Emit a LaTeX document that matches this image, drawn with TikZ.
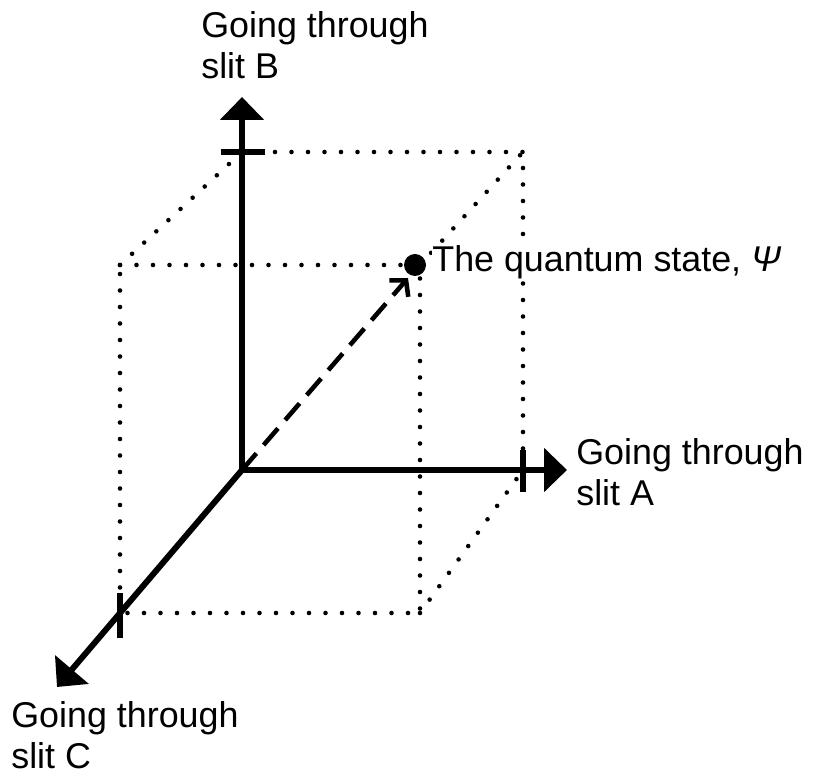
\documentclass[tikz,border=0pt]{standalone}
\usepackage{fontspec}
\setmainfont{Liberation Sans}
\usetikzlibrary{arrows.meta}

\begin{document}
\begin{tikzpicture}[
  axis/.style  = {line width=3.4pt, -{Triangle[length=0.46cm,width=0.86cm]}},
  tick/.style  = {line width=3pt},
  edge/.style  = {line width=2.6pt, line cap=round, dash pattern=on 0pt off 0.33cm},
  state/.style = {line width=2.6pt, dash pattern=on 0.44cm off 0.22cm,
                  -{Straight Barb[length=0.22cm,width=0.5cm]}},
  dot/.style   = {circle, fill, inner sep=0pt, minimum size=0.44cm},
  lbl/.style   = {font=\fontsize{20.4}{23.5}\selectfont, align=left, inner sep=0pt},
]
  \useasboundingbox (-4.84,-6.1) rectangle (11.44,9.4);

  % origin, axis tips and the unit marks
  \coordinate (o) at (0,0);
  \coordinate (atip) at (6.5,0);
  \coordinate (btip) at (0,7.46);
  \coordinate (ctip) at (-3.7,-4.34);
  \coordinate (at) at (5.62,0);
  \coordinate (bt) at (0,6.36);
  \coordinate (ct) at (-2.44,-2.86);

  % the other corners of the box
  \coordinate (ab) at (5.62,6.36);
  \coordinate (bc) at (-2.44,4.1);
  \coordinate (abc) at (3.56,4.1);
  \coordinate (ac) at (3.56,-2.86);

  % dotted box
  \draw[edge] (bt) -- (ab) -- (at);
  \draw[edge] (bc) -- (abc) -- (ac) -- (ct) -- (bc);
  \draw[edge] (bc) -- (bt);
  \draw[edge] (abc) -- (ab);
  \draw[edge] (ac) -- (at);

  % axes
  \draw[axis] (o) -- (atip);
  \draw[axis] (o) -- (btip);
  \draw[axis] (o) -- (ctip);

  \draw[tick] ([xshift=-0.43cm]bt) -- ([xshift=0.45cm]bt);
  \draw[tick] ([yshift=0.4cm]at) -- ([yshift=-0.44cm]at);
  \draw[tick] ([yshift=0.4cm]ct) -- ([yshift=-0.5cm]ct);

  % the state vector
  \node[dot] (psi) at (3.46,4.1) {};
  \draw[state] (o) -- (3.32,3.84);

  \node[lbl, fill=white, anchor=base west] (psilbl) at (3.8,3.96) {The quantum state, \textit{Ψ}};
  \node[lbl, anchor=north west] (alb) at (6.68,0.64) {Going through\\slit A};
  \node[lbl, anchor=north west] (blb) at (-0.82,9.18) {Going through\\slit B};
  \node[lbl, anchor=north west] (clb) at (-4.62,-4.62) {Going through\\slit C};
\end{tikzpicture}
\end{document}
